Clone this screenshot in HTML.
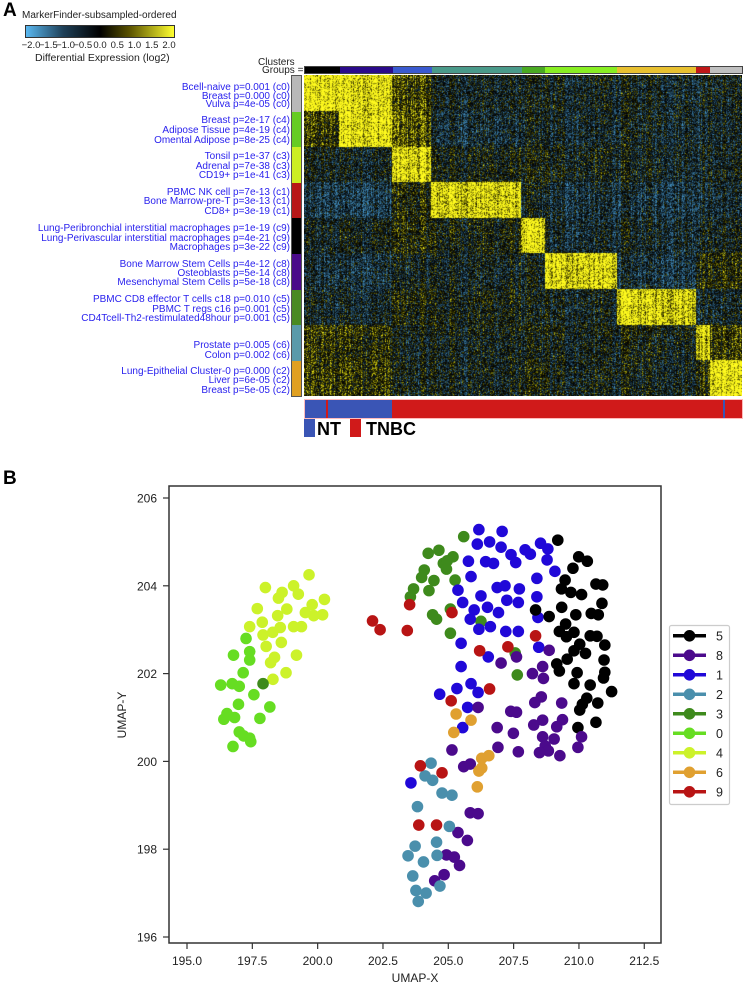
<!DOCTYPE html>
<html><head><meta charset="utf-8">
<style>
body{margin:0;width:744px;height:986px;background:#fff;position:relative;overflow:hidden;font-family:"Liberation Sans",Arial,sans-serif;}
.abs{position:absolute;}
.lbl{position:absolute;right:454px;font-size:10px;color:#2a22ee;white-space:nowrap;line-height:10px;}
.tk{position:absolute;font-size:9.5px;color:#222;transform:translateX(-50%);}
</style></head><body>
<div class="abs" style="left:3px;top:0px;font-size:19px;font-weight:bold;">A</div>
<div class="abs" style="left:3px;top:468px;font-size:19px;font-weight:bold;">B</div>

<div class="abs" style="left:22px;top:10px;font-size:10px;color:#222;">MarkerFinder-subsampled-ordered</div>
<div class="abs" style="left:25px;top:25px;width:148px;height:11px;border:1px solid #333;background:linear-gradient(to right,#5ab8f0 0%,#1e4058 25%,#000 50%,#5a5200 70%,#ffff30 100%);"></div>
<div id="cbticks"></div>
<div class="abs" style="left:35px;top:52px;font-size:10.5px;color:#222;">Differential Expression (log2)</div>

<div class="abs" style="left:258px;top:57px;font-size:10px;color:#222;">Clusters</div>
<div class="abs" style="left:262px;top:65px;font-size:10px;color:#222;">Groups =</div>

<div id="colbar" class="abs" style="left:304px;top:66px;width:437px;height:6px;border:1px solid #444;display:flex;"></div>
<div id="rowbar" class="abs" style="left:291px;top:75px;width:9px;height:320px;border:1px solid #555;"></div>
<canvas id="hm" class="abs" width="438" height="321" style="left:304px;top:75px;"></canvas>
<div id="labels"></div>

<div class="abs" style="left:304px;top:399px;width:437px;height:18px;background:#d01a1a;border:1px solid #fbb;">
 <div style="position:absolute;left:0;top:0;width:87px;height:18px;background:#3a55b5;"></div>
 <div style="position:absolute;left:21px;top:0;width:2px;height:18px;background:#d01a1a;"></div>
 <div style="position:absolute;left:418px;top:0;width:2px;height:18px;background:#3a55b5;"></div>
</div>
<div class="abs" style="left:304px;top:419px;width:11px;height:18px;background:#3a55b5;"></div>
<div class="abs" style="left:317px;top:419px;font-size:18px;font-weight:bold;">NT</div>
<div class="abs" style="left:350px;top:419px;width:11px;height:18px;background:#d01a1a;"></div>
<div class="abs" style="left:366px;top:419px;font-size:18px;font-weight:bold;">TNBC</div>

<svg id="sc" class="abs" width="744" height="986" style="left:0;top:0;"></svg>

<script>
// ---------- Heatmap labels ----------
const rowLabels=[
["Bcell-naive p=0.001 (c0)",88],["Breast p=0.000 (c0)",96.5],["Vulva p=4e-05 (c0)",105],
["Breast p=2e-17 (c4)",121],["Adipose Tissue p=4e-19 (c4)",131],["Omental Adipose p=8e-25 (c4)",141],
["Tonsil p=1e-37 (c3)",157],["Adrenal p=7e-38 (c3)",167],["CD19+ p=1e-41 (c3)",176],
["PBMC NK cell p=7e-13 (c1)",193],["Bone Marrow-pre-T p=3e-13 (c1)",202],["CD8+ p=3e-19 (c1)",212],
["Lung-Peribronchial interstitial macrophages p=1e-19 (c9)",229],["Lung-Perivascular interstitial macrophages p=4e-21 (c9)",238.5],["Macrophages p=3e-22 (c9)",247.5],
["Bone Marrow Stem Cells p=4e-12 (c8)",264.5],["Osteoblasts p=5e-14 (c8)",273.5],["Mesenchymal Stem Cells p=5e-18 (c8)",283],
["PBMC CD8 effector T cells c18 p=0.010 (c5)",300],["PBMC T regs c16 p=0.001 (c5)",309.5],["CD4Tcell-Th2-restimulated48hour p=0.001 (c5)",319],
["Prostate p=0.005 (c6)",345.5],["Colon p=0.002 (c6)",355.5],
["Lung-Epithelial Cluster-0 p=0.000 (c2)",371.5],["Liver p=6e-05 (c2)",381],["Breast p=5e-05 (c2)",390.5]];
const labDiv=document.getElementById('labels');
rowLabels.forEach(l=>{const d=document.createElement('div');d.className='lbl';d.style.top=(l[1]-5)+'px';d.textContent=l[0];


labDiv.appendChild(d);});
const cbt=document.getElementById('cbticks');
["-2.0","-1.5","-1.0","-0.5","0.0","0.5","1.0","1.5","2.0"].forEach((t,i)=>{const d=document.createElement('div');d.className='tk';d.style.left=(31+i*17.25)+'px';d.style.top='40px';d.textContent=t.replace('-','\u2212');


cbt.appendChild(d);});
const colEdges=[304,339,392,431,521,545,617,696,710,742];
const colColors=["#000","#2a0a8a","#3a5ad0","#4a9a8a","#4aaa22","#88ee22","#e8c030","#c01818","#c0c0c0"];
const cb=document.getElementById('colbar');
colColors.forEach((c,i)=>{const d=document.createElement('div');d.style.width=(colEdges[i+1]-colEdges[i])+'px';d.style.height='6px';d.style.background=c;


cb.appendChild(d);});
const rowColors=["#b8b8b8","#66cc22","#ccee22","#b81818","#000","#4a0a8a","#4a8a22","#5a9aaa","#e0a020"];
const rb=document.getElementById('rowbar');
rowColors.forEach(c=>{const d=document.createElement('div');d.style.height='35.6px';d.style.background=c;


rb.appendChild(d);});
// heatmap texture
const B=[[2.0,1.9,0.6,-0.2,-0.2,-0.2,-0.2,-0.2,-0.2],
[0.5,2.0,0.8,-0.4,-0.2,-0.3,-0.2,-0.3,-0.3],
[-0.2,-0.2,1.8,0.0,0.0,-0.1,-0.2,-0.2,-0.2],
[-0.7,-0.7,0.2,1.8,-0.2,-0.5,-0.5,-0.4,-0.4],
[-0.3,-0.1,0.2,0.0,1.8,-0.4,-0.3,-0.2,-0.2],
[-0.5,-0.5,-0.2,-0.2,-0.2,1.8,-0.5,0.3,0.3],
[-0.3,-0.3,0.1,0.0,-0.2,-0.2,1.8,-0.3,-0.3],
[0.4,0.4,-0.2,-0.1,-0.1,-0.1,0.0,1.8,0.5],
[0.5,0.5,-0.1,-0.1,0.1,-0.1,-0.1,0.4,2.0]];
let seed=12345;function rnd(){seed=(seed*1103515245+12345)&0x7fffffff;return seed/0x7fffffff;}
const W=438,H=321,cv=document.getElementById('hm'),ctx=cv.getContext('2d'),img=ctx.createImageData(W,H);
const colE=[],rowE=[];for(let i=0;i<W;i++)colE.push((rnd()-0.5)*1.6);for(let j=0;j<H;j++)rowE.push((rnd()-0.5)*0.8);
for(let y=0;y<H;y++){const band=Math.min(8,Math.floor(y/35.6));
 for(let x=0;x<W;x++){let c=0;while(c<8&&x+304>=colEdges[c+1])c++;
  const v=B[band][c]+colE[x]*0.7+rowE[y]*0.4+(rnd()+rnd()-1)*1.4;
  let r,g,b;if(v>=0){const t=Math.min(v/2,1);const tt=Math.pow(t,1.3);r=255*tt;g=250*tt;b=30*tt*tt;}else{const t=Math.min(-v/2,1);r=70*t;g=150*t;b=200*t;}
  const k=(y*W+x)*4;img.data[k]=r;img.data[k+1]=g;img.data[k+2]=b;img.data[k+3]=255;}}
ctx.putImageData(img,0,0);

// ---------- UMAP scatter data ----------
const c4x=[199.67,198.00,199.08,199.26,198.64,198.50,197.69,198.82,199.79,200.26,199.53,200.19,199.85,198.47,197.88,197.40,198.57,198.28,199.08,199.38,197.91,198.61,198.03,198.35,198.20,199.19,198.79,198.29];
const c4y=[204.25,203.96,204.00,203.81,203.85,203.72,203.48,203.47,203.57,203.69,203.39,203.34,203.32,203.32,203.17,203.07,203.05,202.94,203.07,203.07,202.88,202.71,202.62,202.37,202.25,202.42,202.02,201.87];
const c0x=[197.26,197.40,196.78,197.40,197.15,196.29,196.73,197.00,197.56,196.97,198.17,196.53,196.41,196.82,197.79,197.00,197.17,197.40,196.76,197.44];
const c0y=[202.80,202.50,202.42,202.31,202.02,201.74,201.77,201.71,201.52,201.30,201.24,201.09,200.96,201.00,200.98,200.67,200.58,200.53,200.34,200.45];
const c3x=[197.91,205.59,204.23,204.64,205.18,204.81,204.96,204.93,205.26,204.08,203.98,204.45,203.67,203.55,204.26,204.40,204.55,205.08,205.08,206.25,207.56,207.64];
const c3y=[201.77,205.12,204.74,204.81,204.66,204.51,204.57,204.38,204.13,204.36,204.19,204.12,203.93,203.75,203.89,203.34,203.24,203.47,202.92,203.19,202.47,201.97];
const c1x=[206.17,207.06,206.11,206.58,207.02,207.40,207.58,207.94,208.14,208.53,208.81,208.78,209.08,205.77,206.43,206.73,205.87,208.39,205.37,206.87,207.17,207.72,207.24,206.25,205.55,205.99,206.50,206.92,207.68,208.39,205.84,206.17,206.61,207.20,207.68,208.43,205.49,206.53,208.46,205.49,205.87,205.33,204.67,206.14,205.74,205.55,203.57];
const c1y=[205.28,205.24,204.95,205.00,204.88,204.71,204.53,204.82,204.72,204.97,204.84,204.59,204.33,204.56,204.55,204.51,204.21,204.17,203.90,203.96,204.00,203.93,203.67,203.77,203.62,203.45,203.51,203.39,203.62,203.75,203.24,203.01,203.07,202.96,202.96,203.28,202.69,202.38,202.60,202.16,201.77,201.66,201.53,201.57,201.23,200.77,199.51];
const c5x=[209.19,209.99,210.32,209.77,209.47,209.33,209.69,210.10,210.65,210.91,210.88,208.34,208.86,209.34,209.88,209.49,209.25,209.81,209.52,210.47,210.74,210.43,210.69,210.03,210.99,209.81,210.25,209.55,210.96,209.15,209.25,209.93,210.99,210.94,209.81,210.43,211.25,210.30,210.13,210.72,210.03,210.65,209.96];
const c5y=[205.04,204.66,204.56,204.40,204.13,203.93,203.85,203.80,204.04,204.02,203.60,203.45,203.30,203.51,203.34,203.13,202.96,202.94,202.84,203.37,203.34,202.86,202.85,202.67,202.65,202.52,202.46,202.33,202.31,202.22,202.06,202.02,202.03,201.90,201.77,201.74,201.59,201.44,201.30,201.33,201.17,200.89,200.77];
const c8x=[208.86,207.61,207.02,208.61,208.22,208.64,208.56,208.31,209.34,206.14,207.39,207.61,208.61,208.27,209.37,209.15,206.87,207.49,208.61,209.05,208.71,208.83,208.49,209.27,210.10,209.96,207.68,206.90,205.14,205.59,205.84,205.84,206.14,205.37,205.73,204.93,205.23,205.43,204.84,204.48];
const c8y=[202.53,202.38,202.24,202.16,202.00,201.89,201.47,201.34,201.33,201.23,201.14,201.12,200.94,200.83,200.95,200.79,200.77,200.64,200.56,200.51,200.35,200.24,200.20,200.13,200.56,200.32,200.22,200.32,200.26,199.88,199.94,198.83,198.81,198.38,198.20,197.87,197.82,197.63,197.42,197.28];
const c2x=[204.34,204.11,204.40,204.76,205.14,203.82,205.04,203.73,204.55,203.46,204.57,204.05,203.64,203.76,204.15,204.68,203.85];
const c2y=[199.96,199.67,199.57,199.28,199.23,198.97,198.52,198.07,198.16,197.85,197.86,197.71,197.39,197.06,197.00,197.16,196.81];
const c6x=[205.30,205.87,205.21,206.28,206.55,206.28,206.17,206.11];
const c6y=[201.08,200.94,200.66,200.07,200.13,199.85,199.78,199.42];
const c9x=[203.52,205.14,202.10,202.39,203.43,208.34,207.28,206.20,206.58,205.11,203.93,204.76,203.87,204.55];
const c9y=[203.57,203.39,203.20,203.00,202.98,202.86,202.61,202.52,201.65,201.38,199.90,199.74,198.55,198.55];
const xTicks=[195.0,197.5,200.0,202.5,205.0,207.5,210.0,212.5];
const yTicks=[196,198,200,202,204,206];
const legendLabels=["5","8","1","2","3","0","4","6","9"];
const legendColors=["#000000","#4b0a8c","#2008d8","#4a8fac","#3e8a1c","#66dd22","#ccf22a","#e0a030","#b81414"];

const X=v=>187+(v-195)*26.13, Y=v=>498+(206-v)*43.9;
const NS='http://www.w3.org/2000/svg', sv=document.getElementById('sc');
function mk(t,a,p){const e=document.createElementNS(NS,t);for(const k in a)e.setAttribute(k,a[k]);(p||sv).appendChild(e);return e;}
const frame=mk('rect',{x:169,y:486,width:492,height:457,fill:'none',stroke:'#333','stroke-width':1.5});


xTicks.forEach(t=>{mk('line',{x1:X(t),x2:X(t),y1:943,y2:949,stroke:'#333','stroke-width':1.2});
 const tx=mk('text',{x:X(t),y:965,'font-size':12,'text-anchor':'middle',fill:'#222'});tx.textContent=t.toFixed(1);
 
 });
yTicks.forEach(t=>{mk('line',{x1:163,x2:169,y1:Y(t),y2:Y(t),stroke:'#333','stroke-width':1.2});
 const tx=mk('text',{x:157,y:Y(t)+4.5,'font-size':12,'text-anchor':'end',fill:'#222'});tx.textContent=t;
 
 });
const xt=mk('text',{x:415,y:982,'font-size':12,'text-anchor':'middle',fill:'#222'});xt.textContent='UMAP-X';


const yt=mk('text',{x:126,y:715,'font-size':12,'text-anchor':'middle',fill:'#222',transform:'rotate(-90 126 715)'});yt.textContent='UMAP-Y';


const series=[[c4x,c4y,"#ccf22a"],[c0x,c0y,"#66dd22"],[c3x,c3y,"#3e8a1c"],[c1x,c1y,"#2008d8"],[c5x,c5y,"#000000"],[c8x,c8y,"#4b0a8c"],[c2x,c2y,"#4a8fac"],[c6x,c6y,"#e0a030"],[c9x,c9y,"#b81414"]];
series.forEach(s=>{s[0].forEach((xv,i)=>{const c=mk('circle',{cx:X(xv),cy:Y(s[1][i]),r:5.8,fill:s[2]});
 
 });});
const lg=mk('rect',{x:669.5,y:625.5,width:60,height:179,rx:2,fill:'#fff',stroke:'#ccc','stroke-width':1.2});


legendLabels.forEach((l,i)=>{const yy=635.8+i*19.5;
 const ln=mk('line',{x1:673,x2:706,y1:yy,y2:yy,stroke:legendColors[i],'stroke-width':3.5});
 
 
 const c=mk('circle',{cx:689.5,cy:yy,r:5.8,fill:legendColors[i]});
 
 
 const t=mk('text',{x:716,y:yy+4.5,'font-size':12.5,fill:'#222'});t.textContent=l;
 
 });
</script>
</body></html>
